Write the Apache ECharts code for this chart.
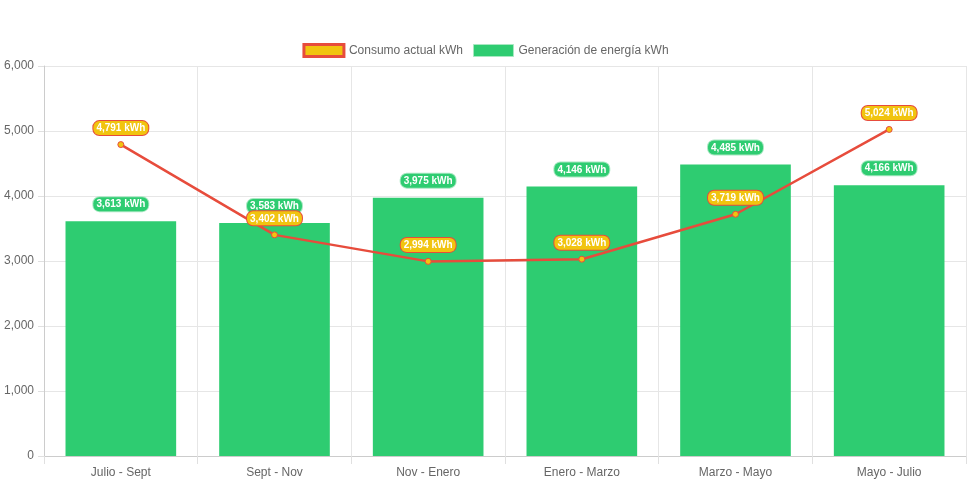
<!DOCTYPE html>
<html><head><meta charset="utf-8">
<script src="https://cdn.jsdelivr.net/npm/echarts@6/dist/echarts.min.js"></script>
<style>html,body{margin:0;padding:0;background:#fff}#c{width:971px;height:485px}</style>
</head><body><div id="c"></div>
<script>
const categories = ['Julio - Sept','Sept - Nov','Nov - Enero','Enero - Marzo','Marzo - Mayo','Mayo - Julio'];
const consumo = [4791, 3402, 2994, 3028, 3719, 5024];
const generacion = [3613, 3583, 3975, 4146, 4485, 4166];
const yTicks = [0, 1000, 2000, 3000, 4000, 5000, 6000];

const fmt = v => v.toLocaleString('en-US');
const font = 'Liberation Sans, Arial, sans-serif';
const chart = echarts.init(document.getElementById('c'));
chart.setOption({
  animation: false,
  textStyle: {fontFamily: font},
  legend: {
    top: 38, left: 'center', itemWidth: 40, itemHeight: 12, itemGap: 10,
    textStyle: {color: '#666', fontSize: 12, fontFamily: font},
    data: [
      {name: 'Consumo actual kWh', icon: 'rect', itemStyle: {color: '#f1c40f', borderColor: '#e74c3c', borderWidth: 3}},
      {name: 'Generación de energía kWh', icon: 'rect', itemStyle: {color: '#2ecc71', borderColor: '#a8e8c2', borderWidth: 1}}
    ]
  },
  grid: {left: 44, right: 5, top: 66, bottom: 29, containLabel: false},
  xAxis: {
    type: 'category', data: categories, boundaryGap: true,
    axisLine: {lineStyle: {color: '#ccc'}},
    axisTick: {show: true, length: 8, lineStyle: {color: '#e0e0e0'}},
    splitLine: {show: true, lineStyle: {color: '#e6e6e6'}},
    axisLabel: {color: '#666', fontSize: 12, margin: 11, fontFamily: font}
  },
  yAxis: {
    type: 'value', min: yTicks[0], max: yTicks[yTicks.length-1], interval: 1000,
    axisLine: {show: true, lineStyle: {color: '#ccc'}},
    axisTick: {show: true, length: 6, lineStyle: {color: '#e0e0e0'}},
    splitLine: {lineStyle: {color: '#e6e6e6'}},
    axisLabel: {color: '#666', fontSize: 12, margin: 10, fontFamily: font, formatter: v => fmt(v)}
  },
  series: [
    {
      name: 'Consumo actual kWh', type: 'line', data: consumo, z: 5,
      symbol: 'circle', symbolSize: 6,
      lineStyle: {color: '#e74c3c', width: 2.5},
      itemStyle: {color: '#f1c40f', borderColor: '#e74c3c', borderWidth: 1},
      label: {
        show: true, position: 'top', distance: 6,
        formatter: p => fmt(p.value) + ' kWh',
        color: '#fff', fontWeight: 'bold', fontSize: 10, lineHeight: 11, fontFamily: font,
        backgroundColor: '#f1c40f', borderColor: '#e74c3c', borderWidth: 1, borderRadius: 6,
        padding: [2, 3, 1, 3]
      }
    },
    {
      name: 'Generación de energía kWh', type: 'bar', data: generacion, z: 2,
      barWidth: '72%',
      itemStyle: {color: '#2ecc71'},
      label: {
        show: true, position: 'top', distance: 10,
        formatter: p => fmt(p.value) + ' kWh',
        color: '#fff', fontWeight: 'bold', fontSize: 10, lineHeight: 11, fontFamily: font,
        backgroundColor: '#2ecc71', borderColor: '#a8e8c2', borderWidth: 1, borderRadius: 6,
        padding: [2, 3, 1, 3]
      }
    }
  ]
});
</script></body></html>
